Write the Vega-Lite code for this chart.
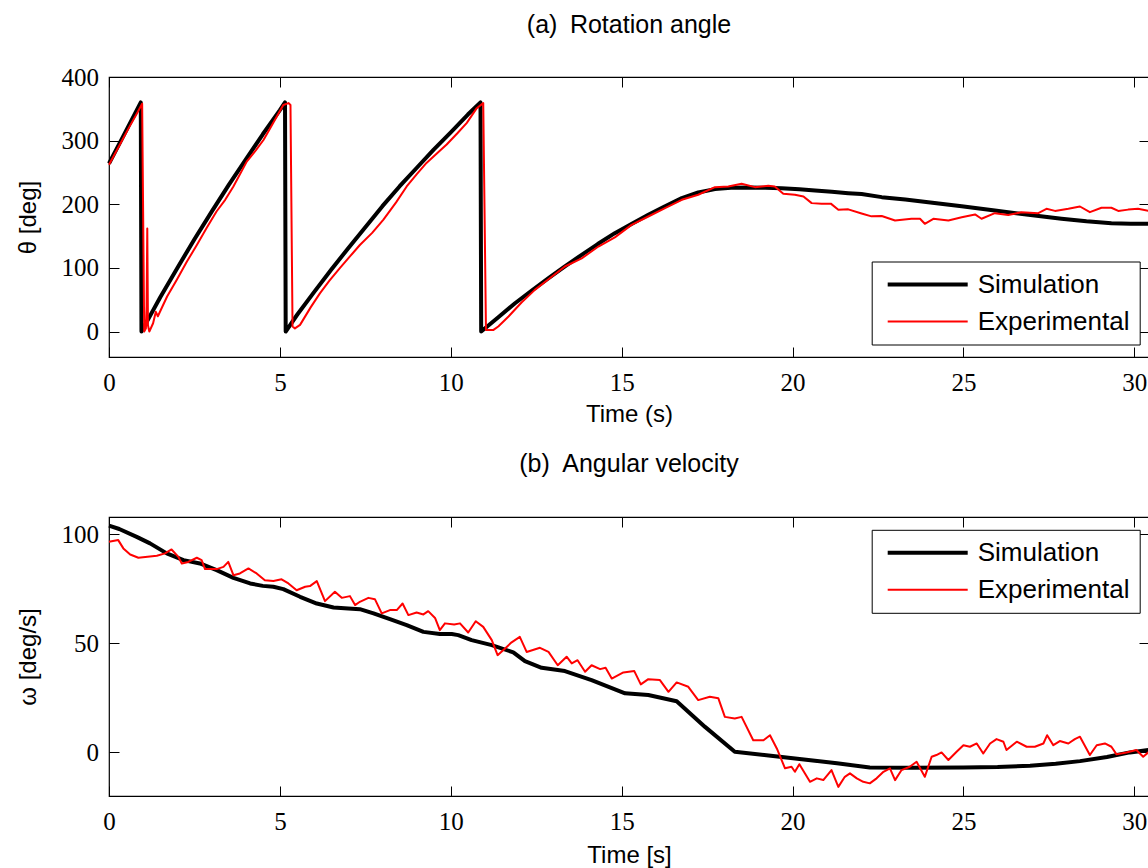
{
  "$schema": "https://vega.github.io/schema/vega-lite/v6.json",
  "padding": {"top": 11, "left": 15, "right": 0, "bottom": 0},
  "spacing": 23,
  "datasets": {
    "thetaSim": [
      {"t":0,"v":264,"series":"Simulation"},{"t":0.3,"v":295,"series":"Simulation"},{"t":0.6,"v":326,"series":"Simulation"},{"t":0.93,"v":360,"series":"Simulation"},{"t":0.95,"v":0,"series":"Simulation"},{"t":1.0,"v":5,"series":"Simulation"},{"t":1.5,"v":54,"series":"Simulation"},{"t":2.0,"v":100,"series":"Simulation"},{"t":2.5,"v":145,"series":"Simulation"},{"t":3.0,"v":188,"series":"Simulation"},{"t":3.5,"v":230,"series":"Simulation"},{"t":4.0,"v":270,"series":"Simulation"},{"t":4.5,"v":310,"series":"Simulation"},{"t":5.0,"v":348,"series":"Simulation"},{"t":5.15,"v":360,"series":"Simulation"},{"t":5.17,"v":0,"series":"Simulation"},{"t":5.5,"v":26,"series":"Simulation"},{"t":6.0,"v":62,"series":"Simulation"},{"t":6.5,"v":97,"series":"Simulation"},{"t":7.0,"v":131,"series":"Simulation"},{"t":7.5,"v":164,"series":"Simulation"},{"t":8.0,"v":197,"series":"Simulation"},{"t":8.5,"v":228,"series":"Simulation"},{"t":9.0,"v":257,"series":"Simulation"},{"t":9.5,"v":286,"series":"Simulation"},{"t":10.0,"v":313,"series":"Simulation"},{"t":10.5,"v":341,"series":"Simulation"},{"t":10.87,"v":360,"series":"Simulation"},{"t":10.89,"v":0,"series":"Simulation"},{"t":11.4,"v":23,"series":"Simulation"},{"t":11.88,"v":44.5,"series":"Simulation"},{"t":12.37,"v":64.5,"series":"Simulation"},{"t":12.86,"v":83.8,"series":"Simulation"},{"t":13.34,"v":102.5,"series":"Simulation"},{"t":13.83,"v":120.6,"series":"Simulation"},{"t":14.3,"v":137.5,"series":"Simulation"},{"t":14.8,"v":154.6,"series":"Simulation"},{"t":15.3,"v":169.5,"series":"Simulation"},{"t":15.78,"v":183.5,"series":"Simulation"},{"t":16.27,"v":197,"series":"Simulation"},{"t":16.76,"v":209.6,"series":"Simulation"},{"t":17.24,"v":218.5,"series":"Simulation"},{"t":17.73,"v":223.8,"series":"Simulation"},{"t":18.2,"v":226,"series":"Simulation"},{"t":18.71,"v":226.4,"series":"Simulation"},{"t":19.2,"v":226,"series":"Simulation"},{"t":19.68,"v":225.3,"series":"Simulation"},{"t":20.2,"v":223.5,"series":"Simulation"},{"t":20.66,"v":221.7,"series":"Simulation"},{"t":21.15,"v":219.8,"series":"Simulation"},{"t":21.63,"v":217.5,"series":"Simulation"},{"t":22.02,"v":216,"series":"Simulation"},{"t":22.61,"v":211.2,"series":"Simulation"},{"t":23.3,"v":207.5,"series":"Simulation"},{"t":23.97,"v":203.3,"series":"Simulation"},{"t":24.95,"v":197,"series":"Simulation"},{"t":25.92,"v":190.3,"series":"Simulation"},{"t":26.9,"v":183.5,"series":"Simulation"},{"t":27.87,"v":177.2,"series":"Simulation"},{"t":28.6,"v":173.2,"series":"Simulation"},{"t":29.33,"v":170.3,"series":"Simulation"},{"t":29.9,"v":169.5,"series":"Simulation"},{"t":30.43,"v":169.3,"series":"Simulation"}
    ],
    "thetaExp": [
      {"t":0,"v":262,"series":"Experimental"},{"t":0.3,"v":292,"series":"Experimental"},{"t":0.6,"v":322,"series":"Experimental"},{"t":0.8,"v":341,"series":"Experimental"},{"t":0.97,"v":358,"series":"Experimental"},{"t":1.03,"v":0,"series":"Experimental"},{"t":1.08,"v":5,"series":"Experimental"},{"t":1.1,"v":40,"series":"Experimental"},{"t":1.12,"v":162,"series":"Experimental"},{"t":1.14,"v":10,"series":"Experimental"},{"t":1.18,"v":0,"series":"Experimental"},{"t":1.29,"v":13,"series":"Experimental"},{"t":1.37,"v":31,"series":"Experimental"},{"t":1.43,"v":24,"series":"Experimental"},{"t":1.7,"v":55,"series":"Experimental"},{"t":1.98,"v":81,"series":"Experimental"},{"t":2.28,"v":110,"series":"Experimental"},{"t":2.57,"v":136,"series":"Experimental"},{"t":2.86,"v":163,"series":"Experimental"},{"t":3.15,"v":189,"series":"Experimental"},{"t":3.4,"v":207,"series":"Experimental"},{"t":3.64,"v":228,"series":"Experimental"},{"t":4.03,"v":267,"series":"Experimental"},{"t":4.3,"v":285,"series":"Experimental"},{"t":4.52,"v":301,"series":"Experimental"},{"t":4.72,"v":320,"series":"Experimental"},{"t":4.91,"v":338,"series":"Experimental"},{"t":5.1,"v":356,"series":"Experimental"},{"t":5.25,"v":359,"series":"Experimental"},{"t":5.31,"v":356,"series":"Experimental"},{"t":5.37,"v":8,"series":"Experimental"},{"t":5.44,"v":5,"series":"Experimental"},{"t":5.59,"v":10.5,"series":"Experimental"},{"t":5.9,"v":38,"series":"Experimental"},{"t":6.17,"v":60,"series":"Experimental"},{"t":6.45,"v":80,"series":"Experimental"},{"t":6.76,"v":100,"series":"Experimental"},{"t":7.05,"v":118,"series":"Experimental"},{"t":7.34,"v":136,"series":"Experimental"},{"t":7.7,"v":155,"series":"Experimental"},{"t":8.03,"v":176,"series":"Experimental"},{"t":8.4,"v":203,"series":"Experimental"},{"t":8.71,"v":228,"series":"Experimental"},{"t":9.0,"v":247,"series":"Experimental"},{"t":9.29,"v":265,"series":"Experimental"},{"t":9.6,"v":280,"series":"Experimental"},{"t":9.88,"v":294,"series":"Experimental"},{"t":10.2,"v":312,"series":"Experimental"},{"t":10.47,"v":328,"series":"Experimental"},{"t":10.76,"v":351,"series":"Experimental"},{"t":10.95,"v":359,"series":"Experimental"},{"t":11.03,"v":2.6,"series":"Experimental"},{"t":11.25,"v":2.6,"series":"Experimental"},{"t":11.39,"v":8,"series":"Experimental"},{"t":11.69,"v":23.6,"series":"Experimental"},{"t":12.07,"v":45.6,"series":"Experimental"},{"t":12.46,"v":65.5,"series":"Experimental"},{"t":12.86,"v":82.2,"series":"Experimental"},{"t":13.34,"v":102.2,"series":"Experimental"},{"t":13.83,"v":115,"series":"Experimental"},{"t":14.32,"v":133.6,"series":"Experimental"},{"t":14.8,"v":148,"series":"Experimental"},{"t":15.29,"v":167.7,"series":"Experimental"},{"t":15.78,"v":180.8,"series":"Experimental"},{"t":16.27,"v":193.9,"series":"Experimental"},{"t":16.76,"v":207,"series":"Experimental"},{"t":17.24,"v":215,"series":"Experimental"},{"t":17.73,"v":226.9,"series":"Experimental"},{"t":18.12,"v":228,"series":"Experimental"},{"t":18.51,"v":232.2,"series":"Experimental"},{"t":18.9,"v":226.9,"series":"Experimental"},{"t":19.29,"v":229.1,"series":"Experimental"},{"t":19.48,"v":228,"series":"Experimental"},{"t":19.73,"v":216.5,"series":"Experimental"},{"t":20.07,"v":215,"series":"Experimental"},{"t":20.32,"v":212.3,"series":"Experimental"},{"t":20.56,"v":201.8,"series":"Experimental"},{"t":20.85,"v":200.7,"series":"Experimental"},{"t":21.12,"v":201,"series":"Experimental"},{"t":21.34,"v":191.3,"series":"Experimental"},{"t":21.63,"v":192,"series":"Experimental"},{"t":22.02,"v":185.5,"series":"Experimental"},{"t":22.31,"v":181,"series":"Experimental"},{"t":22.61,"v":181.5,"series":"Experimental"},{"t":23.0,"v":174.5,"series":"Experimental"},{"t":23.48,"v":177.2,"series":"Experimental"},{"t":23.73,"v":177.2,"series":"Experimental"},{"t":23.87,"v":169.3,"series":"Experimental"},{"t":24.12,"v":177.2,"series":"Experimental"},{"t":24.56,"v":174.5,"series":"Experimental"},{"t":24.95,"v":179.7,"series":"Experimental"},{"t":25.34,"v":184,"series":"Experimental"},{"t":25.53,"v":177.2,"series":"Experimental"},{"t":25.92,"v":186,"series":"Experimental"},{"t":26.31,"v":183,"series":"Experimental"},{"t":26.7,"v":187.6,"series":"Experimental"},{"t":27.19,"v":186,"series":"Experimental"},{"t":27.43,"v":192.9,"series":"Experimental"},{"t":27.68,"v":189.6,"series":"Experimental"},{"t":28.07,"v":192.9,"series":"Experimental"},{"t":28.41,"v":196.5,"series":"Experimental"},{"t":28.7,"v":187.6,"series":"Experimental"},{"t":29.04,"v":194.5,"series":"Experimental"},{"t":29.33,"v":194.5,"series":"Experimental"},{"t":29.53,"v":189.6,"series":"Experimental"},{"t":29.82,"v":191.6,"series":"Experimental"},{"t":30.11,"v":192.9,"series":"Experimental"},{"t":30.43,"v":189.6,"series":"Experimental"}
    ],
    "omegaSim": [
      {"t":0,"v":104,"series":"Simulation"},{"t":0.3,"v":102.5,"series":"Simulation"},{"t":0.81,"v":98.9,"series":"Simulation"},{"t":1.2,"v":95.9,"series":"Simulation"},{"t":1.69,"v":91.3,"series":"Simulation"},{"t":2.18,"v":88.2,"series":"Simulation"},{"t":2.66,"v":86.7,"series":"Simulation"},{"t":3.15,"v":83.6,"series":"Simulation"},{"t":3.64,"v":80.1,"series":"Simulation"},{"t":4.13,"v":77.5,"series":"Simulation"},{"t":4.5,"v":76.4,"series":"Simulation"},{"t":4.81,"v":76.0,"series":"Simulation"},{"t":5.1,"v":74.9,"series":"Simulation"},{"t":5.59,"v":71.4,"series":"Simulation"},{"t":6.08,"v":68.3,"series":"Simulation"},{"t":6.57,"v":66.5,"series":"Simulation"},{"t":7.0,"v":66,"series":"Simulation"},{"t":7.34,"v":65.7,"series":"Simulation"},{"t":7.74,"v":63.8,"series":"Simulation"},{"t":8.22,"v":61.1,"series":"Simulation"},{"t":8.71,"v":58.4,"series":"Simulation"},{"t":9.2,"v":55.3,"series":"Simulation"},{"t":9.68,"v":54.3,"series":"Simulation"},{"t":10.03,"v":54.3,"series":"Simulation"},{"t":10.22,"v":53.8,"series":"Simulation"},{"t":10.61,"v":51.5,"series":"Simulation"},{"t":11.2,"v":49.2,"series":"Simulation"},{"t":11.83,"v":45.9,"series":"Simulation"},{"t":12.17,"v":41.9,"series":"Simulation"},{"t":12.66,"v":38.8,"series":"Simulation"},{"t":13.34,"v":37.3,"series":"Simulation"},{"t":14.12,"v":33.2,"series":"Simulation"},{"t":15.1,"v":27.1,"series":"Simulation"},{"t":15.78,"v":26.3,"series":"Simulation"},{"t":16.61,"v":23.5,"series":"Simulation"},{"t":17.44,"v":11.7,"series":"Simulation"},{"t":18.31,"v":0.3,"series":"Simulation"},{"t":19.3,"v":-1.4,"series":"Simulation"},{"t":20.27,"v":-3.1,"series":"Simulation"},{"t":21.3,"v":-5.0,"series":"Simulation"},{"t":22.26,"v":-6.9,"series":"Simulation"},{"t":23.5,"v":-7,"series":"Simulation"},{"t":25.0,"v":-6.9,"series":"Simulation"},{"t":26.0,"v":-6.7,"series":"Simulation"},{"t":26.95,"v":-6.1,"series":"Simulation"},{"t":27.7,"v":-5.2,"series":"Simulation"},{"t":28.41,"v":-4.0,"series":"Simulation"},{"t":29.2,"v":-2.1,"series":"Simulation"},{"t":29.87,"v":0,"series":"Simulation"},{"t":30.43,"v":1.1,"series":"Simulation"}
    ],
    "omegaExp": [
      {"t":0,"v":96.6,"series":"Experimental"},{"t":0.27,"v":97.4,"series":"Experimental"},{"t":0.42,"v":93.6,"series":"Experimental"},{"t":0.62,"v":90.8,"series":"Experimental"},{"t":0.86,"v":89.3,"series":"Experimental"},{"t":1.4,"v":90.2,"series":"Experimental"},{"t":1.64,"v":91.3,"series":"Experimental"},{"t":1.83,"v":93.1,"series":"Experimental"},{"t":2.03,"v":89.7,"series":"Experimental"},{"t":2.13,"v":86.7,"series":"Experimental"},{"t":2.32,"v":87.4,"series":"Experimental"},{"t":2.57,"v":89.3,"series":"Experimental"},{"t":2.71,"v":88.2,"series":"Experimental"},{"t":2.81,"v":84.1,"series":"Experimental"},{"t":3.15,"v":84.1,"series":"Experimental"},{"t":3.35,"v":85.1,"series":"Experimental"},{"t":3.49,"v":87.4,"series":"Experimental"},{"t":3.64,"v":81.3,"series":"Experimental"},{"t":3.83,"v":82.1,"series":"Experimental"},{"t":4.08,"v":84.4,"series":"Experimental"},{"t":4.32,"v":82.1,"series":"Experimental"},{"t":4.56,"v":79.0,"series":"Experimental"},{"t":4.81,"v":78.6,"series":"Experimental"},{"t":5.05,"v":79.4,"series":"Experimental"},{"t":5.25,"v":77.5,"series":"Experimental"},{"t":5.49,"v":74.4,"series":"Experimental"},{"t":5.74,"v":76.0,"series":"Experimental"},{"t":5.88,"v":76.3,"series":"Experimental"},{"t":6.08,"v":78.6,"series":"Experimental"},{"t":6.32,"v":69.4,"series":"Experimental"},{"t":6.61,"v":73.7,"series":"Experimental"},{"t":6.81,"v":70.9,"series":"Experimental"},{"t":7.05,"v":71.7,"series":"Experimental"},{"t":7.2,"v":67.6,"series":"Experimental"},{"t":7.34,"v":69.1,"series":"Experimental"},{"t":7.59,"v":70.9,"series":"Experimental"},{"t":7.78,"v":70.3,"series":"Experimental"},{"t":7.98,"v":63.8,"series":"Experimental"},{"t":8.22,"v":65.3,"series":"Experimental"},{"t":8.42,"v":65.3,"series":"Experimental"},{"t":8.59,"v":68.3,"series":"Experimental"},{"t":8.76,"v":63.0,"series":"Experimental"},{"t":9.0,"v":64.2,"series":"Experimental"},{"t":9.2,"v":63.3,"series":"Experimental"},{"t":9.34,"v":64.8,"series":"Experimental"},{"t":9.54,"v":61.7,"series":"Experimental"},{"t":9.68,"v":56.1,"series":"Experimental"},{"t":9.83,"v":59.2,"series":"Experimental"},{"t":10.1,"v":58.7,"series":"Experimental"},{"t":10.27,"v":59.2,"series":"Experimental"},{"t":10.51,"v":55.0,"series":"Experimental"},{"t":10.73,"v":60.2,"series":"Experimental"},{"t":10.95,"v":57.6,"series":"Experimental"},{"t":11.2,"v":51.5,"series":"Experimental"},{"t":11.37,"v":44.6,"series":"Experimental"},{"t":11.59,"v":47.7,"series":"Experimental"},{"t":11.78,"v":50.5,"series":"Experimental"},{"t":12.02,"v":53.0,"series":"Experimental"},{"t":12.22,"v":46.1,"series":"Experimental"},{"t":12.61,"v":48.0,"series":"Experimental"},{"t":12.86,"v":46.1,"series":"Experimental"},{"t":13.13,"v":40.0,"series":"Experimental"},{"t":13.39,"v":43.9,"series":"Experimental"},{"t":13.54,"v":40.8,"series":"Experimental"},{"t":13.71,"v":42.3,"series":"Experimental"},{"t":13.93,"v":37.0,"series":"Experimental"},{"t":14.12,"v":40.0,"series":"Experimental"},{"t":14.37,"v":38.2,"series":"Experimental"},{"t":14.53,"v":38.8,"series":"Experimental"},{"t":14.71,"v":33.9,"series":"Experimental"},{"t":15.05,"v":36.7,"series":"Experimental"},{"t":15.37,"v":37.3,"series":"Experimental"},{"t":15.56,"v":31.2,"series":"Experimental"},{"t":15.78,"v":33.6,"series":"Experimental"},{"t":16.12,"v":33.2,"series":"Experimental"},{"t":16.37,"v":27.8,"series":"Experimental"},{"t":16.61,"v":32.1,"series":"Experimental"},{"t":16.95,"v":30.1,"series":"Experimental"},{"t":17.24,"v":24.0,"series":"Experimental"},{"t":17.58,"v":25.5,"series":"Experimental"},{"t":17.83,"v":24.8,"series":"Experimental"},{"t":18.02,"v":16.3,"series":"Experimental"},{"t":18.31,"v":15.6,"series":"Experimental"},{"t":18.51,"v":16.3,"series":"Experimental"},{"t":18.85,"v":5.6,"series":"Experimental"},{"t":19.15,"v":5.6,"series":"Experimental"},{"t":19.34,"v":7.9,"series":"Experimental"},{"t":19.54,"v":1.8,"series":"Experimental"},{"t":19.78,"v":-7.3,"series":"Experimental"},{"t":19.97,"v":-6.6,"series":"Experimental"},{"t":20.07,"v":-8.9,"series":"Experimental"},{"t":20.2,"v":-5.4,"series":"Experimental"},{"t":20.51,"v":-13.5,"series":"Experimental"},{"t":20.71,"v":-11.9,"series":"Experimental"},{"t":20.9,"v":-12.7,"series":"Experimental"},{"t":21.14,"v":-8.1,"series":"Experimental"},{"t":21.34,"v":-15.8,"series":"Experimental"},{"t":21.53,"v":-11.2,"series":"Experimental"},{"t":21.68,"v":-9.6,"series":"Experimental"},{"t":21.88,"v":-11.9,"series":"Experimental"},{"t":22.07,"v":-13.5,"series":"Experimental"},{"t":22.26,"v":-14.2,"series":"Experimental"},{"t":22.46,"v":-11.9,"series":"Experimental"},{"t":22.66,"v":-8.9,"series":"Experimental"},{"t":22.85,"v":-7.3,"series":"Experimental"},{"t":23.0,"v":-12.7,"series":"Experimental"},{"t":23.19,"v":-8.1,"series":"Experimental"},{"t":23.43,"v":-6.6,"series":"Experimental"},{"t":23.63,"v":-4.3,"series":"Experimental"},{"t":23.87,"v":-11.2,"series":"Experimental"},{"t":24.07,"v":-2.0,"series":"Experimental"},{"t":24.21,"v":-1.2,"series":"Experimental"},{"t":24.36,"v":0,"series":"Experimental"},{"t":24.56,"v":-3.5,"series":"Experimental"},{"t":24.8,"v":0.3,"series":"Experimental"},{"t":25.0,"v":3.3,"series":"Experimental"},{"t":25.19,"v":2.6,"series":"Experimental"},{"t":25.39,"v":4.1,"series":"Experimental"},{"t":25.58,"v":-0.5,"series":"Experimental"},{"t":25.78,"v":4.1,"series":"Experimental"},{"t":25.97,"v":6.1,"series":"Experimental"},{"t":26.17,"v":4.9,"series":"Experimental"},{"t":26.26,"v":1.1,"series":"Experimental"},{"t":26.56,"v":4.9,"series":"Experimental"},{"t":26.85,"v":2.6,"series":"Experimental"},{"t":27.09,"v":2.6,"series":"Experimental"},{"t":27.34,"v":4.1,"series":"Experimental"},{"t":27.45,"v":7.9,"series":"Experimental"},{"t":27.63,"v":3.3,"series":"Experimental"},{"t":27.82,"v":5.2,"series":"Experimental"},{"t":28.07,"v":4.1,"series":"Experimental"},{"t":28.26,"v":6.1,"series":"Experimental"},{"t":28.41,"v":7.2,"series":"Experimental"},{"t":28.7,"v":-1.2,"series":"Experimental"},{"t":28.9,"v":3.3,"series":"Experimental"},{"t":29.14,"v":4.1,"series":"Experimental"},{"t":29.33,"v":2.6,"series":"Experimental"},{"t":29.48,"v":-0.9,"series":"Experimental"},{"t":29.77,"v":0,"series":"Experimental"},{"t":30.06,"v":1.1,"series":"Experimental"},{"t":30.26,"v":-2.0,"series":"Experimental"},{"t":30.43,"v":0.3,"series":"Experimental"}
    ]
  },
  "config": {
    "view": {"stroke": "black", "strokeWidth": 1.2},
    "axis": {
      "domain": false, "grid": false, "tickColor": "black", "tickSize": -10, "tickWidth": 1,
      "labelFont": "Liberation Serif", "labelFontSize": 25, "labelColor": "black",
      "labelFlush": false, "labelOverlap": false, "labelBound": false,
      "titleFont": "Liberation Sans", "titleFontSize": 24, "titleFontWeight": "normal", "titleColor": "black"
    },
    "legend": {
      "orient": "none", "fillColor": "white", "strokeColor": "black", "padding": 10,
      "symbolType": "M-80,0L80,0", "symbolSize": 1, "symbolOffset": 33,
      "labelFont": "Liberation Sans", "labelFontSize": 26, "labelColor": "black",
      "labelOffset": 37, "rowPadding": 11, "labelLimit": 0
    },
    "title": {"font": "Liberation Sans", "fontSize": 25, "fontWeight": "normal", "color": "black", "baseline": "bottom", "anchor": "middle", "frame": "group"},
    "line": {"strokeJoin": "round", "clip": true}
  },
  "resolve": {
    "scale": {"color": "independent"},
    "legend": {"color": "independent"}
  },
  "vconcat": [
    {
      "title": {"text": "(a)\u2002Rotation angle", "offset": 27.5},
      "width": 1040, "height": 280,
      "layer": [
        {
          "data": {"name": "thetaSim"},
          "mark": {"type": "line", "strokeWidth": 4},
          "encoding": {
            "x": {"field": "t", "type": "quantitative", "scale": {"domain": [0, 30.43], "nice": false, "zero": false},
                  "axis": {"orient": "bottom", "values": [0,5,10,15,20,25,30], "title": "Time (s)", "labelPadding": 23, "titlePadding": 7}},
            "y": {"field": "v", "type": "quantitative", "scale": {"domain": [-40, 400], "nice": false, "zero": false},
                  "axis": {"orient": "left", "values": [0,100,200,300,400], "title": "θ [deg]", "labelPadding": 20.6, "titlePadding": 20.5, "titleAngle": 270, "titleBaseline": "bottom"}},
            "color": {"field": "series", "type": "nominal", "scale": {"domain": ["Simulation", "Experimental"], "range": ["#000000", "#ff0000"]},
                      "legend": {"title": null, "legendX": 762.7, "legendY": 184.5,
                                 "symbolStrokeWidth": {"expr": "datum.value === 'Simulation' ? 4 : 2"}}}
          }
        },
        {
          "data": {"name": "thetaExp"},
          "mark": {"type": "line", "strokeWidth": 2},
          "encoding": {
            "x": {"field": "t", "type": "quantitative", "axis": null},
            "y": {"field": "v", "type": "quantitative", "axis": null},
            "color": {"field": "series", "type": "nominal",
                      "legend": {"title": null, "legendX": 762.7, "legendY": 184.5,
                                 "symbolStrokeWidth": {"expr": "datum.value === 'Simulation' ? 4 : 2"}}}
          }
        },
        {
          "data": {"name": "thetaSim"},
          "mark": {"type": "line", "strokeOpacity": 0},
          "encoding": {
            "x": {"field": "t", "type": "quantitative", "axis": {"orient": "top", "values": [0,5,10,15,20,25,30], "labels": false, "title": null}},
            "y": {"field": "v", "type": "quantitative", "axis": {"orient": "right", "values": [0,100,200,300,400], "labels": false, "title": null}}
          }
        }
      ],
      "resolve": {"axis": {"x": "independent", "y": "independent"}}
    },
    {
      "title": {"text": "(b)\u2002Angular velocity", "offset": 40},
      "width": 1040, "height": 279,
      "layer": [
        {
          "data": {"name": "omegaSim"},
          "mark": {"type": "line", "strokeWidth": 4},
          "encoding": {
            "x": {"field": "t", "type": "quantitative", "scale": {"domain": [0, 30.43], "nice": false, "zero": false},
                  "axis": {"orient": "bottom", "values": [0,5,10,15,20,25,30], "title": "Time [s]", "labelPadding": 23, "titlePadding": 9}},
            "y": {"field": "v", "type": "quantitative", "scale": {"domain": [-20, 108], "nice": false, "zero": false},
                  "axis": {"orient": "left", "values": [0,50,100], "title": "ω [deg/s]", "labelPadding": 20.6, "titlePadding": 20.5, "titleAngle": 270, "titleBaseline": "bottom"}},
            "color": {"field": "series", "type": "nominal", "scale": {"domain": ["Simulation", "Experimental"], "range": ["#000000", "#ff0000"]},
                      "legend": {"title": null, "legendX": 762.7, "legendY": 12.8,
                                 "symbolStrokeWidth": {"expr": "datum.value === 'Simulation' ? 4 : 2"}}}
          }
        },
        {
          "data": {"name": "omegaExp"},
          "mark": {"type": "line", "strokeWidth": 2},
          "encoding": {
            "x": {"field": "t", "type": "quantitative", "axis": null},
            "y": {"field": "v", "type": "quantitative", "axis": null},
            "color": {"field": "series", "type": "nominal",
                      "legend": {"title": null, "legendX": 762.7, "legendY": 12.8,
                                 "symbolStrokeWidth": {"expr": "datum.value === 'Simulation' ? 4 : 2"}}}
          }
        },
        {
          "data": {"name": "omegaSim"},
          "mark": {"type": "line", "strokeOpacity": 0},
          "encoding": {
            "x": {"field": "t", "type": "quantitative", "axis": {"orient": "top", "values": [0,5,10,15,20,25,30], "labels": false, "title": null}},
            "y": {"field": "v", "type": "quantitative", "axis": {"orient": "right", "values": [0,50,100], "labels": false, "title": null}}
          }
        }
      ],
      "resolve": {"axis": {"x": "independent", "y": "independent"}}
    }
  ]
}
